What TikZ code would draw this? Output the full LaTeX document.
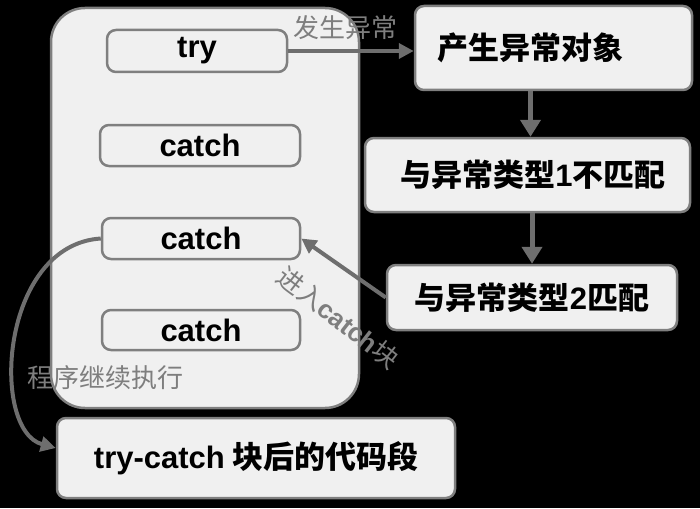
\documentclass[tikz,border=0pt]{standalone}
\usepackage{fontspec}
\setmainfont{Liberation Sans}
\newfontfamily\cjk{Noto Sans CJK SC}
\usetikzlibrary{arrows.meta}
\definecolor{boxfill}{HTML}{F0F0F0}
\definecolor{boxline}{HTML}{7F7F7F}
\definecolor{arrcol}{HTML}{6E6E6E}
\definecolor{labcol}{HTML}{7E7E7E}
\newcommand{\lt}[1]{{\fontspec{Liberation Sans}\bfseries #1}}
\begin{document}
\begin{tikzpicture}[x=1pt,y=-1pt,
  box/.style={draw=boxline, line width=2.5pt, fill=boxfill, rounded corners=9pt, inner sep=0pt, text=black},
  bigbox/.style={box, rounded corners=34pt},
  latin/.style={font=\fontsize{31}{34}\selectfont\bfseries},
  chin/.style={font=\fontsize{31}{35}\selectfont\cjk\bfseries},
  arr/.style={draw=arrcol, line width=5pt, -{Triangle[length=17pt,width=20pt]}},
  thinarr/.style={draw=arrcol, line width=4pt, -{Triangle[length=15pt,width=15pt]}},
  lab/.style={text=labcol, font=\fontsize{26}{30}\selectfont\cjk, inner sep=0pt}]
\fill[black] (0,0) rectangle (700,508);
\useasboundingbox (0,0) rectangle (700,508);
% container
\node[bigbox, minimum width=308pt, minimum height=400pt] (outer) at (205,208) {};
\node[box, latin, minimum width=180pt, minimum height=42pt] (try) at (197,51) {try};
\node[box, latin, minimum width=200pt, minimum height=41pt] (c1) at (200,145.5) {catch};
\node[box, latin, minimum width=198pt, minimum height=41pt] (c2) at (201,238.5) {catch};
\node[box, latin, minimum width=198pt, minimum height=40pt] (c3) at (201,330) {catch};
% right column
\node[box, chin, minimum width=277pt, minimum height=84pt] (obj) at (553.5,48) {产生异常对象\hspace*{46pt}};
\node[box, chin, minimum width=325pt, minimum height=74pt] (m1) at (527.5,175) {\hspace*{11pt}与异常类型\lt{1}不匹配};
\node[box, chin, minimum width=290pt, minimum height=65pt] (m2) at (532,297.5) {与异常类型\lt{2}匹配};
\node[box, chin, minimum width=398pt, minimum height=80pt] (tc) at (256,458) {\lt{try-catch} 块后的代码段};
% arrows
\draw[thinarr] (try.east) -- (try.east -| obj.west);
\draw[arr] ([xshift=3pt]m1.north |- obj.south) -- ([xshift=3pt]m1.north);
\draw[arr] (m2.north |- m1.south) -- (m2.north);
\draw[thinarr] (m2.west) -- (c2.east);
\draw[thinarr] (c2.west) .. controls (0,245) and (-10,430) .. ([yshift=10pt]tc.west);
% labels
\node[lab] (l1) at (345,28) {发生异常};
\node[lab, rotate=-38] (l2) at (338,318) {进入\lt{catch}块};
\node[lab] (l3) at (105,378) {程序继续执行};
\end{tikzpicture}
\end{document}
